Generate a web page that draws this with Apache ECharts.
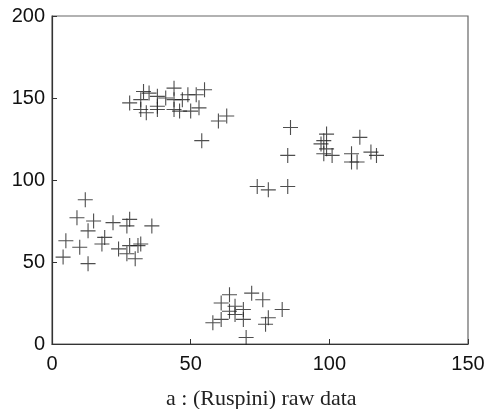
<!DOCTYPE html>
<html><head><meta charset="utf-8">
<script src="https://cdn.jsdelivr.net/npm/echarts@6/dist/echarts.min.js"></script>
<style>html,body{margin:0;padding:0;background:#fff}#c{width:490px;height:409px}</style>
</head><body><div id="c"></div>
<script>
const xValues = [4,5,10,9,13,13,12,15,18,19,22,27,28,24,27,28,30,31,32,36,
  28,32,35,33,38,41,38,38,32,34,44,44,44,46,47,49,50,53,52,55,54,60,63,
  86,85,85,78,74,97,98,98,99,99,101,108,110,108,111,115,117,
  70,77,83,61,69,78,66,58,64,69,66,61,76,72,64];
const yValues = [53,63,59,77,49,69,88,75,61,65,74,72,76,58,55,60,52,60,61,72,
  147,149,153,154,151,150,145,143,143,141,156,149,143,142,149,152,142,144,152,155,124,136,139,
  132,115,96,94,96,122,116,124,119,128,115,111,111,116,126,117,115,
  4,12,21,15,15,16,18,13,20,21,23,25,27,31,30];
const xTicks = [0,50,100,150];
const yTicks = [0,50,100,150,200];
const caption = 'a : (Ruspini) raw data';

const points = xValues.map((x,i)=>[x,yValues[i]]);
const chart = echarts.init(document.getElementById('c'), null, {renderer:'canvas'});
const axisCommon = {
  axisLine:{show:true, lineStyle:{color:'#333', width:1.2}},
  axisTick:{show:true, inside:true, length:5, lineStyle:{color:'#333'}},
  splitLine:{show:false},
  axisLabel:{color:'#111', fontFamily:'Liberation Sans', fontSize:20}
};
chart.setOption({
  animation:false,
  backgroundColor:'#fff',
  title:{text:caption, left:161, top:383,
    textStyle:{fontFamily:'Liberation Serif', fontSize:22, fontWeight:'normal', color:'#222'}},
  grid:{left:52, right:22, top:16, bottom:65, show:true, borderColor:'#666', borderWidth:1.2},
  xAxis:Object.assign({type:'value', min:xTicks[0], max:xTicks[xTicks.length-1], interval:50}, axisCommon,
    {axisLabel:Object.assign({}, axisCommon.axisLabel, {margin:10})}),
  yAxis:Object.assign({type:'value', min:yTicks[0], max:yTicks[yTicks.length-1], interval:50}, axisCommon,
    {axisLabel:Object.assign({}, axisCommon.axisLabel, {margin:7})}),
  series:[{
    type:'scatter',
    data:points,
    symbol:'path://M0,-1L0,1M-1,0L1,0',
    symbolSize:15,
    itemStyle:{color:'rgba(0,0,0,0)', borderColor:'#222', borderWidth:1.1}
  }]
});
</script></body></html>
